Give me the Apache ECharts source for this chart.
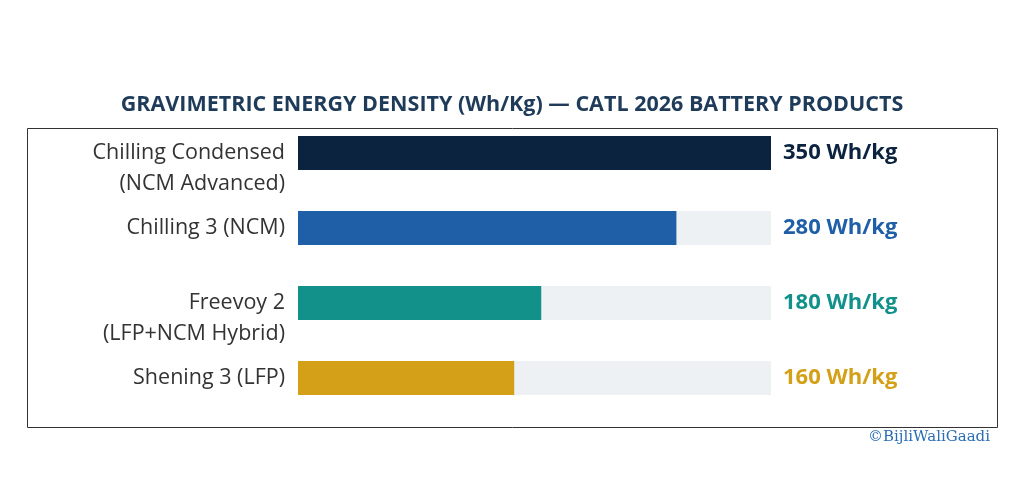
<!DOCTYPE html>
<html><head><meta charset="utf-8">
<script src="https://cdn.jsdelivr.net/npm/echarts@6/dist/echarts.min.js"></script>
<style>html,body{margin:0;padding:0;background:#fff}#c{width:1024px;height:485px}</style>
</head><body><div id="c"></div>
<script>
const categories = ["Chilling Condensed\n(NCM Advanced)", "Chilling 3 (NCM)", "Freevoy 2\n(LFP+NCM Hybrid)", "Shening 3 (LFP)"];
const values = [350, 280, 180, 160];
const valueLabels = ["350 Wh/kg", "280 Wh/kg", "180 Wh/kg", "160 Wh/kg"];
const colors = ["#0c2340", "#1f5fa8", "#12918b", "#d4a017"];
const maxValue = 350;

const chart = echarts.init(document.getElementById('c'));
chart.setOption({
  animation: false,
  title: {
    text: "GRAVIMETRIC ENERGY DENSITY (Wh/Kg) — CATL 2026 BATTERY PRODUCTS",
    left: 'center', top: 89,
    textStyle: {fontFamily: 'Open Sans', fontWeight: 'bold', fontSize: 21.5, color: '#1f3b5a'}
  },
  graphic: [
    {type: 'rect', shape: {x: 27.5, y: 128.5, width: 970, height: 299}, style: {fill: 'none', stroke: '#333', lineWidth: 1}, z: -1},
    {type: 'text', right: 34, top: 430, style: {text: '©BijliWaliGaadi', font: '15px "DejaVu Serif"', fill: '#2a6db5'}}
  ],
  grid: {left: 298, right: 253, top: 115.5, bottom: 69.5},
  xAxis: {type: 'value', min: 0, max: maxValue, show: false},
  yAxis: {
    type: 'category', data: categories, inverse: true,
    axisLine: {show: false}, axisTick: {show: false},
    axisLabel: {margin: 13, fontFamily: 'Open Sans', fontSize: 21.5, color: '#333', lineHeight: 31, align: 'right',
      formatter: v => v.indexOf('\n') >= 0 ? ' \n' + v : v}
  },
  series: [{
    type: 'bar', barWidth: 34,
    showBackground: true, backgroundStyle: {color: '#eef1f4'},
    data: values.map((v, i) => ({value: v, itemStyle: {color: colors[i]}}))
  }, {
    type: 'bar', barWidth: 34, barGap: '-100%', silent: true,
    data: values.map((v, i) => ({value: maxValue, itemStyle: {color: 'transparent'},
      label: {show: true, position: 'right', distance: 12, formatter: valueLabels[i],
        fontFamily: 'Open Sans', fontWeight: 'bold', fontSize: 22, color: colors[i]}}))
  }]
});
</script></body></html>
